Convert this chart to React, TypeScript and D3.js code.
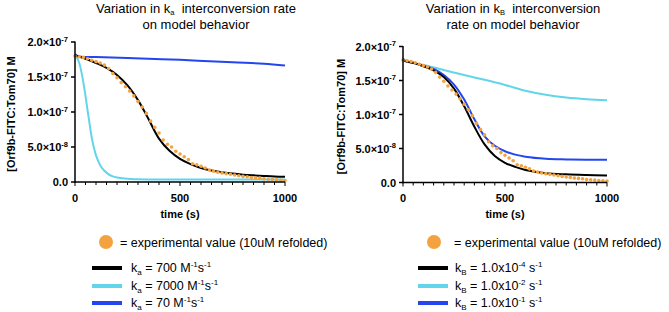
import React from "react";
import * as d3 from "d3";

// ---- data (concentration in units of 1e-7 M, time in s) ----
const expTime = [0,20,40,60,80,100,120,140,160,180,200,220,240,260,280,300,320,340,360,380,400,420,440,460,480,500,520,540,560,580,600,620,640,660,680,700,720,740,760,780,800,820,840,860,880,900,920,940,960,980,1000];
const expValue = [1.80,1.79,1.78,1.76,1.74,1.72,1.70,1.67,1.62,1.55,1.49,1.42,1.36,1.30,1.23,1.15,1.07,0.98,0.87,0.78,0.70,0.60,0.54,0.50,0.44,0.40,0.36,0.32,0.26,0.245,0.225,0.20,0.17,0.155,0.14,0.13,0.12,0.11,0.10,0.09,0.08,0.075,0.065,0.06,0.055,0.045,0.04,0.035,0.03,0.025,0.02];

const kaBlackTime = [0,50,100,150,200,250,300,350,400,450,500,550,600,650,700,750,800,850,900,950,1000];
const kaBlackValue = [1.81,1.76,1.70,1.63,1.53,1.38,1.17,0.90,0.62,0.445,0.33,0.255,0.20,0.165,0.14,0.12,0.105,0.095,0.087,0.08,0.076];
const kaCyanTime = [0,10,20,30,40,50,60,70,80,90,100,120,140,160,180,200,250,300,400,600,800,1000];
const kaCyanValue = [1.81,1.77,1.70,1.58,1.42,1.23,1.02,0.82,0.63,0.49,0.38,0.24,0.16,0.11,0.08,0.065,0.045,0.04,0.035,0.035,0.035,0.035];
const kaBlueTime = [0,10,25,100,250,500,750,900,1000];
const kaBlueValue = [1.83,1.80,1.79,1.785,1.77,1.745,1.71,1.69,1.665];

const kbTime = [0,10,50,100,150,200,250,300,350,400,450,500,550,600,700,800,900,1000];
const kbBlackValue = [1.82,1.79,1.76,1.71,1.65,1.55,1.38,1.12,0.82,0.56,0.39,0.29,0.23,0.185,0.137,0.12,0.11,0.103];
const kbBlueValue = [1.82,1.79,1.76,1.72,1.67,1.58,1.44,1.22,0.93,0.68,0.54,0.46,0.41,0.38,0.35,0.34,0.335,0.333];
const kbCyanTime = [0,10,100,200,300,400,500,600,700,800,900,1000];
const kbCyanValue = [1.82,1.79,1.73,1.655,1.58,1.51,1.435,1.35,1.29,1.25,1.225,1.21];

const yTicks = [0, 0.5, 1.0, 1.5, 2.0];
const yTickMant = ["0.0", "5.0×10", "1.0×10", "1.5×10", "2.0×10"];
const yTickExp = ["", "-8", "-7", "-7", "-7"];
const xMajorTicks = [0, 500, 1000];

const kaLegend = [
  { sub: "a", val: " = 700 M", unit: "s", color: "#000000" },
  { sub: "a", val: " = 7000 M", unit: "s", color: "#63d5ea" },
  { sub: "a", val: " = 70 M", unit: "s", color: "#2346ee" },
];
const kbLegend = [
  { sub: "B", exp: "-4", color: "#000000" },
  { sub: "B", exp: "-2", color: "#63d5ea" },
  { sub: "B", exp: "-1", color: "#2346ee" },
];

const ORANGE = "#f3a23f";
const FONT = "'Liberation Sans', Arial, sans-serif";
const ROWS = [268, 286, 303];

type Series = { t: number[]; v: number[]; color: string };

function Panel(props: {
  x0: number; x1: number; y0: number; y1: number;
  series: Series[]; yLabelX: number;
}) {
  const { x0, x1, y0, y1, series, yLabelX } = props;
  const x = d3.scaleLinear().domain([0, 1000]).range([x0, x1]);
  const y = d3.scaleLinear().domain([0, 2]).range([y0, y1]);
  const line = d3.line<[number, number]>()
    .x((d) => x(d[0]))
    .y((d) => y(d[1]))
    .curve(d3.curveCatmullRom.alpha(0.5));
  const minor = d3.range(0, 1001, 50);
  return (
    <g>
      {series.map((s, i) => (
        <path key={i} d={line(s.t.map((t, j) => [t, s.v[j]]) as [number, number][]) || ""}
          fill="none" stroke={s.color} strokeWidth={2} />
      ))}
      {expTime.map((t, i) => (
        <circle key={"e" + i} cx={x(t)} cy={y(expValue[i])} r={1.8} fill={ORANGE} />
      ))}
      {/* axes */}
      <line x1={x0} x2={x0} y1={y1 - 0.5} y2={y0 + 0.75} stroke="#000" strokeWidth={1.5} />
      <line x1={x0 - 0.75} x2={x1} y1={y0} y2={y0} stroke="#000" strokeWidth={1.5} />
      {yTicks.map((v, i) => (
        <g key={"yt" + i}>
          <line x1={x0 - 4} x2={x0} y1={y(v)} y2={y(v)} stroke="#000" strokeWidth={1.5} />
          <text x={x0 - 7} y={y(v) + 4} textAnchor="end" fontFamily={FONT} fontWeight="bold" fontSize={11}>
            {yTickMant[i]}
            {yTickExp[i] && <tspan dy={-4.5} fontSize={7.5}>{yTickExp[i]}</tspan>}
          </text>
        </g>
      ))}
      {minor.map((v) => (
        <line key={"xm" + v} x1={x(v)} x2={x(v)} y1={y0} y2={y0 + (v % 500 === 0 ? 4 : 3)}
          stroke="#000" strokeWidth={1} />
      ))}
      {xMajorTicks.map((v) => (
        <text key={"xl" + v} x={x(v)} y={202} textAnchor="middle" fontFamily={FONT}
          fontWeight="bold" fontSize={11}>{v}</text>
      ))}
      <text x={(x0 + x1) / 2} y={218} textAnchor="middle" fontFamily={FONT} fontWeight="bold" fontSize={11}>time (s)</text>
      <text transform={`translate(${yLabelX},${(y0 + y1) / 2 + 2}) rotate(-90)`} textAnchor="middle"
        fontFamily={FONT} fontWeight="bold" fontSize={11}>[Orf9b-FITC:Tom70] M</text>
    </g>
  );
}

export default function App() {
  return (
    <svg width={669} height={312} style={{ display: "block", position: "absolute", left: 0, top: 0 }}>
      <rect width={669} height={312} fill="#fff" />
      {/* titles */}
      <text x={196} y={12.5} textAnchor="middle" fontFamily={FONT} fontSize={13}>
        Variation in k<tspan dy={2.5} fontSize={7.5}>a</tspan><tspan dy={-2.5}>{"\u00a0 interconversion rate"}</tspan>
      </text>
      <text x={196} y={29} textAnchor="middle" fontFamily={FONT} fontSize={13}>on model behavior</text>
      <text x={513} y={12.5} textAnchor="middle" fontFamily={FONT} fontSize={13}>
        Variation in k<tspan dy={2.5} fontSize={7.5}>B</tspan><tspan dy={-2.5}>{"\u00a0 interconversion"}</tspan>
      </text>
      <text x={513} y={29} textAnchor="middle" fontFamily={FONT} fontSize={13}>rate on model behavior</text>

      <Panel x0={75} x1={285} y0={182} y1={42} yLabelX={15}
        series={[
          { t: kaBlueTime, v: kaBlueValue, color: "#2346ee" },
          { t: kaCyanTime, v: kaCyanValue, color: "#63d5ea" },
          { t: kaBlackTime, v: kaBlackValue, color: "#000000" },
        ]} />
      <Panel x0={403} x1={607} y0={182.5} y1={46.5} yLabelX={345}
        series={[
          { t: kbCyanTime, v: kbCyanValue, color: "#63d5ea" },
          { t: kbTime, v: kbBlueValue, color: "#2346ee" },
          { t: kbTime, v: kbBlackValue, color: "#000000" },
        ]} />

      {/* legends */}
      <circle cx={106} cy={242} r={7} fill={ORANGE} />
      <text x={120} y={246.5} fontFamily={FONT} fontSize={12.5}>= experimental value (10uM refolded)</text>
      {kaLegend.map((d, i) => {
        const yy = ROWS[i];
        return (
          <g key={"la" + i}>
            <line x1={92} x2={122} y1={yy} y2={yy} stroke={d.color} strokeWidth={4} />
            <text x={131} y={yy + 4} fontFamily={FONT} fontSize={12.5}>
              k<tspan dy={2.5} fontSize={8}>{d.sub}</tspan>
              <tspan dy={-2.5}>{d.val}</tspan>
              <tspan dy={-5} fontSize={8}>-1</tspan>
              <tspan dy={5}>{d.unit}</tspan>
              <tspan dy={-5} fontSize={8}>-1</tspan>
            </text>
          </g>
        );
      })}
      <circle cx={434} cy={242} r={7} fill={ORANGE} />
      <text x={454} y={246.5} fontFamily={FONT} fontSize={12.5}>= experimental value (10uM refolded)</text>
      {kbLegend.map((d, i) => {
        const yy = ROWS[i];
        return (
          <g key={"lb" + i}>
            <line x1={418} x2={448} y1={yy} y2={yy} stroke={d.color} strokeWidth={4} />
            <text x={455} y={yy + 4} fontFamily={FONT} fontSize={12.5}>
              k<tspan dy={2.5} fontSize={8}>{d.sub}</tspan>
              <tspan dy={-2.5}>{" = 1.0x10"}</tspan>
              <tspan dy={-5} fontSize={8}>{d.exp}</tspan>
              <tspan dy={5}>{" s"}</tspan>
              <tspan dy={-5} fontSize={8}>-1</tspan>
            </text>
          </g>
        );
      })}
    </svg>
  );
}
